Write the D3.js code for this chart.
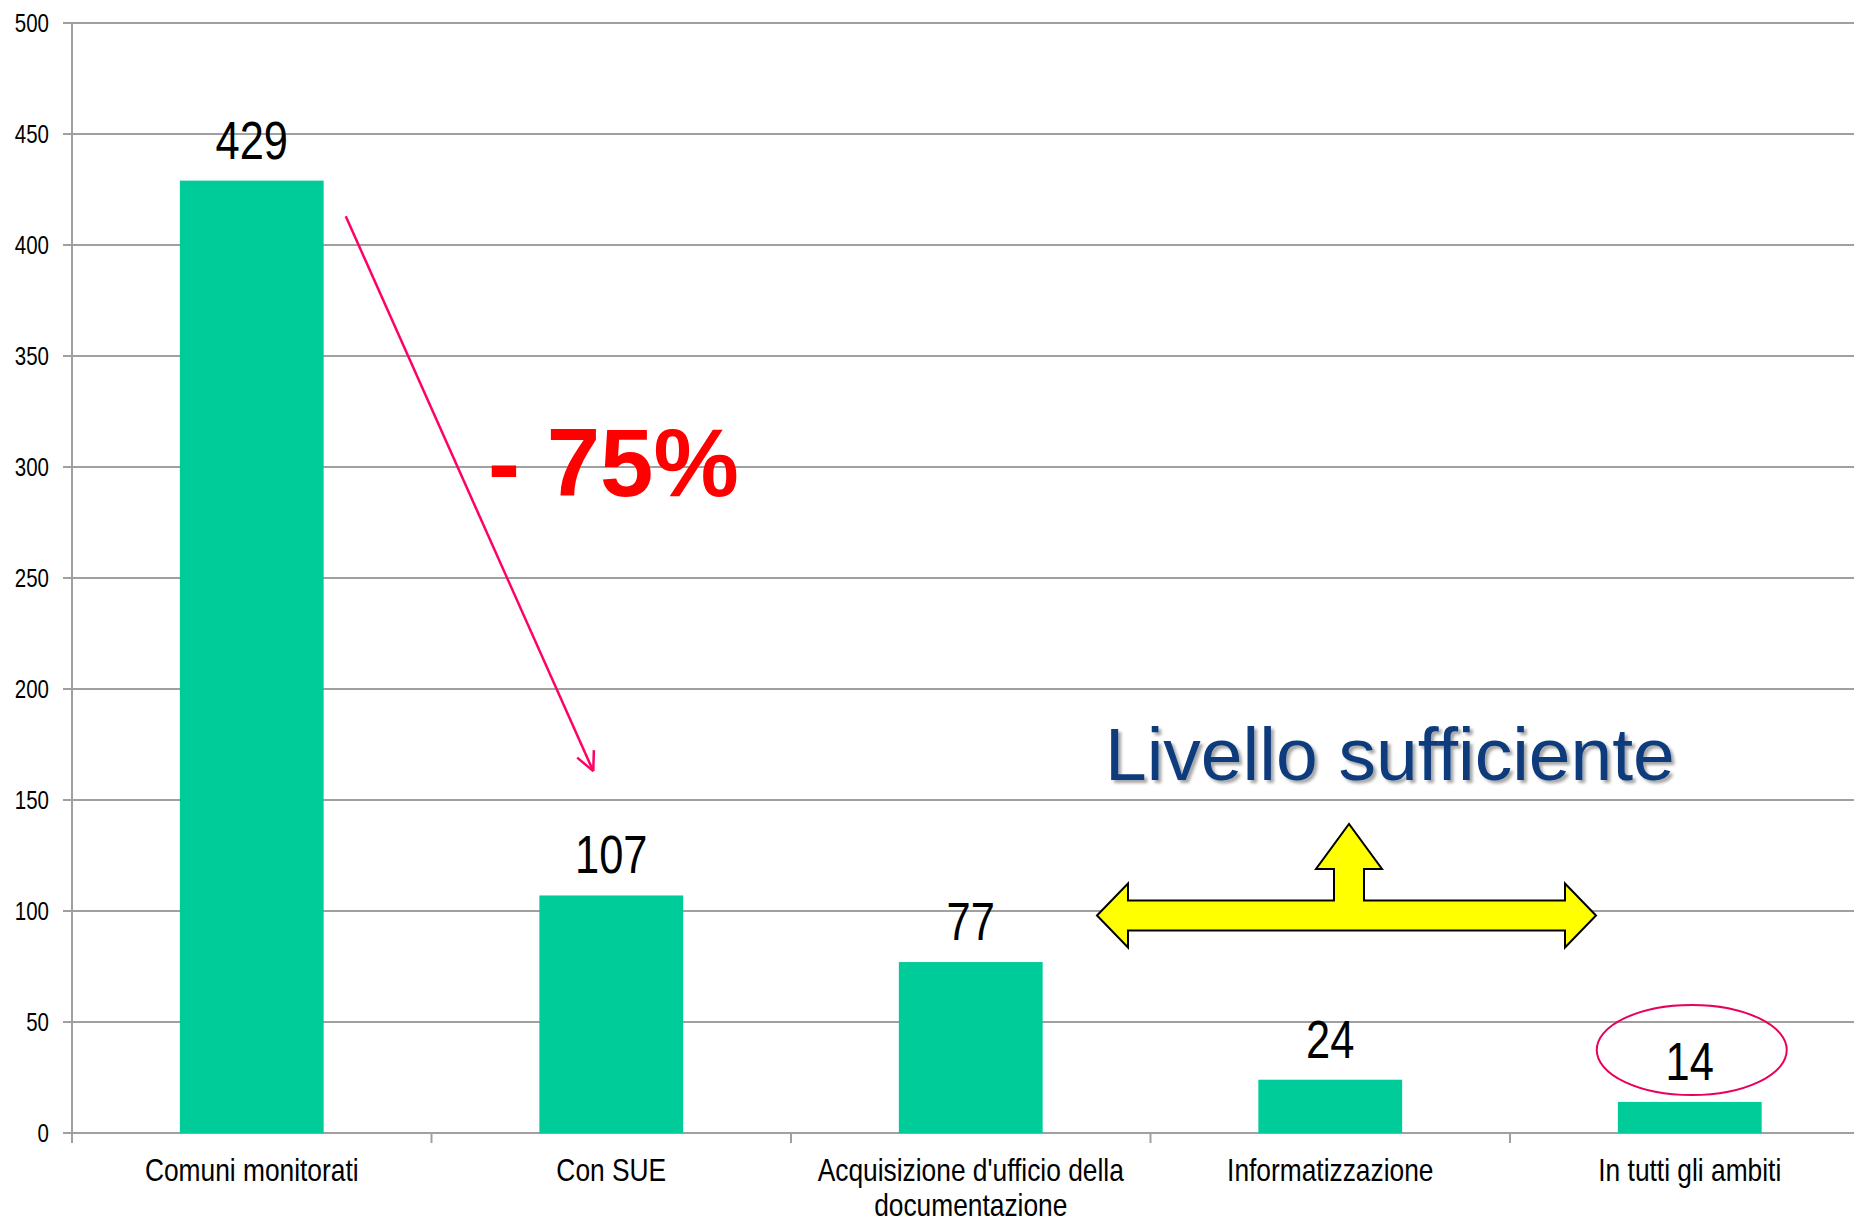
<!DOCTYPE html>
<meta charset="utf-8">
<script src="https://d3js.org/d3.v7.min.js"></script>
<style>
 body { margin: 0; background: #fff; overflow: hidden; }
 svg { display: block; }
 .narrow { font-family: 'Liberation Sans Narrow', 'Arial Narrow', 'Liberation Sans', sans-serif; }
</style>
<div id="chart"></div>
<script>

 // data
 const categories = ["Comuni monitorati", "Con SUE", "Acquisizione d'ufficio della documentazione", "Informatizzazione", "In tutti gli ambiti"];
 const values = [429, 107, 77, 24, 14];
 const yTicks = [0, 50, 100, 150, 200, 250, 300, 350, 400, 450, 500];

 const colorBar = "#00CC99";
 const colorGrid = "#A0A0A0";
 const squeeze = "scale(0.82,1)"; // no narrow font installed, so squeeze Liberation Sans
 const squeezeCat = "scale(0.85,1)";

 const W = 1854, H = 1222;
 const plotLeft = 72, plotTop = 23, plotBottom = 1133;

 const svg = d3.select("#chart").append("svg")
   .attr("width", W).attr("height", H);

 // scales: plot runs past the right edge of the picture, like the original slide
 const x = d3.scaleBand().domain(categories).range([plotLeft, plotLeft + 5 * 359.5]).padding(0);
 const y = d3.scaleLinear().domain([0, 500]).range([plotBottom, plotTop]);

 // horizontal grid
 svg.append("g").selectAll("line")
   .data(yTicks)
   .join("line")
   .attr("x1", plotLeft - 9).attr("x2", W)
   .attr("y1", d => y(d)).attr("y2", d => y(d))
   .attr("stroke", colorGrid).attr("stroke-width", 2);

 // y axis
 svg.append("line")
   .attr("x1", plotLeft).attr("x2", plotLeft).attr("y1", y(500)).attr("y2", y(0) + 10)
   .attr("stroke", colorGrid).attr("stroke-width", 2);

 svg.append("g").selectAll("text")
   .data(yTicks)
   .join("text")
   .attr("class", "narrow")
   .attr("transform", d => `translate(49,${y(d)}) ${squeeze}`)
   .attr("dy", "0.36em")
   .attr("text-anchor", "end")
   .style("font-size", "25px")
   .text(d => d);

 // x axis ticks at band edges
 const edges = categories.map(c => x(c));
 svg.append("g").selectAll("line")
   .data(edges)
   .join("line")
   .attr("x1", d => d).attr("x2", d => d)
   .attr("y1", y(0)).attr("y2", y(0) + 10)
   .attr("stroke", colorGrid).attr("stroke-width", 2);

 // bars
 const barW = x.bandwidth() * 0.4;
 const cx = c => x(c) + x.bandwidth() / 2;

 svg.append("g").selectAll("rect")
   .data(categories)
   .join("rect")
   .attr("x", (c) => cx(c) - barW / 2)
   .attr("y", (c, i) => y(values[i]))
   .attr("width", barW)
   .attr("height", (c, i) => y(0) - y(values[i]))
   .attr("fill", colorBar);

 // value labels
 svg.append("g").selectAll("text")
   .data(categories)
   .join("text")
   .attr("class", "narrow")
   .attr("transform", (c, i) => `translate(${cx(c)},${y(values[i]) - 22}) ${squeeze}`)
   .attr("text-anchor", "middle")
   .style("font-size", "53px")
   .text((c, i) => values[i]);

 // category labels, wrapped like the original
 const wrapped = {
   "Acquisizione d'ufficio della documentazione": ["Acquisizione d'ufficio della", "documentazione"]
 };
 const catText = svg.append("g").selectAll("text")
   .data(categories)
   .join("text")
   .attr("class", "narrow")
   .attr("transform", c => `translate(${cx(c)},1181) ${squeezeCat}`)
   .attr("text-anchor", "middle")
   .style("font-size", "31px");
 catText.each(function(c) {
   const lines = wrapped[c] || [c];
   d3.select(this).selectAll("tspan")
     .data(lines)
     .join("tspan")
     .attr("x", 0)
     .attr("dy", (d, i) => i ? 35 : 0)
     .text(d => d);
 });

 // ---- annotations ----
 const pink = "#FF0066";

 // diagonal arrow from first bar to second
 const ax1 = cx(categories[0]) + 94, ay1 = y(413);
 const ax2 = cx(categories[1]) - 18, ay2 = y(163);
 svg.append("line")
   .attr("x1", ax1).attr("y1", ay1).attr("x2", ax2).attr("y2", ay2)
   .attr("stroke", pink).attr("stroke-width", 2.5);
 const ang = Math.atan2(ay2 - ay1, ax2 - ax1);
 [0.45, -0.45].forEach(a => {
   svg.append("line")
     .attr("x1", ax2).attr("y1", ay2)
     .attr("x2", ax2 - 21 * Math.cos(ang + a))
     .attr("y2", ay2 - 21 * Math.sin(ang + a))
     .attr("stroke", pink).attr("stroke-width", 2.5);
 });

 svg.append("text")
   .attr("x", 488).attr("y", 496)
   .style("font-family", "'Liberation Sans', Arial, sans-serif")
   .style("font-weight", "bold")
   .style("font-size", "96px")
   .attr("fill", "#FF0000")
   .text("- 75%");

 // "Livello sufficiente" with a soft shadow
 const shadow = svg.append("defs").append("filter").attr("id", "sh")
   .attr("x", "-5%").attr("y", "-20%").attr("width", "110%").attr("height", "140%");
 shadow.append("feDropShadow")
   .attr("dx", 3).attr("dy", 3).attr("stdDeviation", 1.5)
   .attr("flood-color", "#000").attr("flood-opacity", 0.35);

 svg.append("text")
   .attr("x", 1105).attr("y", y(160) + 2)
   .style("font-family", "'Liberation Sans', Arial, sans-serif")
   .style("font-size", "75px")
   .attr("fill", "#0B3A7C")
   .attr("filter", "url(#sh)")
   .text("Livello sufficiente");

 // yellow three-way arrow
 const yc = y(98);
 const arL = 1097, arR = 1596, hb1 = 1128, hb2 = 1565;
 const shaftH = 15, headH = 32;
 const sx1 = 1334, sx2 = 1364, tipY = 824, upBase = 869, uh1 = 1316, uh2 = 1382;
 const pts = [
   [arL, yc], [hb1, yc - headH], [hb1, yc - shaftH], [sx1, yc - shaftH], [sx1, upBase],
   [uh1, upBase], [(sx1 + sx2) / 2, tipY], [uh2, upBase], [sx2, upBase],
   [sx2, yc - shaftH], [hb2, yc - shaftH], [hb2, yc - headH], [arR, yc], [hb2, yc + headH],
   [hb2, yc + shaftH], [hb1, yc + shaftH], [hb1, yc + headH]
 ];
 svg.append("path")
   .attr("d", d3.line()(pts) + "Z")
   .attr("fill", "#FFFF00")
   .attr("stroke", "#000")
   .attr("stroke-width", 2)
   .attr("stroke-linejoin", "miter");

 // ellipse around the last value
 svg.append("ellipse")
   .attr("cx", cx(categories[4]) + 2).attr("cy", 1050)
   .attr("rx", 95).attr("ry", 45)
   .attr("fill", "none")
   .attr("stroke", "#E8005A").attr("stroke-width", 2);

</script>
